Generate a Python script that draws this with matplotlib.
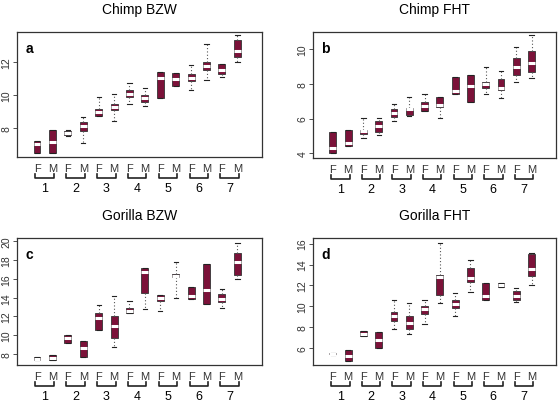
import numpy as np
import matplotlib.pyplot as plt
from matplotlib.transforms import offset_copy

plt.rcParams['font.family'] = ['Liberation Sans', 'DejaVu Sans']

groups = ['1', '2', '3', '4', '5', '6', '7']
sexes = ['F', 'M']

# per box: F1, M1, F2, M2, ... F7, M7
# Chimp BZW
a_q1 = [6.48, 6.48, 7.56, 7.80, 8.72, 9.12, 9.86, 9.60, 9.80, 10.56, 10.84, 11.52, 11.28, 12.32]
a_med = [7.04, 7.18, 7.70, 8.16, 8.96, 9.26, 10.08, 9.82, 11.04, 10.96, 11.00, 11.74, 11.48, 12.66]
a_q3 = [7.20, 7.88, 7.80, 8.36, 9.16, 9.44, 10.30, 10.00, 11.40, 11.32, 11.24, 12.02, 11.84, 13.32]
a_lo = [6.48, 6.48, 7.52, 7.12, 8.72, 8.42, 9.46, 9.32, 9.80, 10.56, 10.30, 10.90, 11.10, 12.00]
a_hi = [7.20, 7.88, 7.86, 8.70, 9.90, 10.08, 10.70, 10.44, 11.40, 11.32, 11.80, 13.10, 11.84, 13.60]

# Chimp FHT
b_q1 = [4.00, 4.40, 5.12, 5.22, 6.12, 6.18, 6.46, 6.67, 7.44, 6.94, 7.74, 7.63, 8.53, 8.66]
b_med = [4.30, 4.59, 5.26, 5.55, 6.33, 6.56, 6.71, 6.79, 7.61, 7.90, 7.97, 7.76, 9.00, 9.18]
b_q3 = [5.22, 5.33, 5.35, 5.87, 6.56, 6.63, 6.94, 7.25, 8.37, 8.50, 8.09, 8.28, 9.48, 9.87]
b_lo = [4.00, 4.40, 4.88, 5.07, 5.87, 6.16, 6.46, 6.06, 7.44, 6.94, 7.42, 7.20, 8.09, 8.32]
b_hi = [5.22, 5.33, 6.06, 6.02, 6.83, 7.23, 7.40, 7.25, 8.37, 8.50, 8.95, 8.72, 10.10, 10.80]

# Gorilla BZW
c_q1 = [7.33, 7.33, 9.18, 7.69, 10.60, 9.75, 12.38, 14.52, 13.67, 16.16, 13.81, 13.38, 13.52, 16.44]
c_med = [7.51, 7.62, 9.68, 8.61, 11.89, 11.03, 12.63, 16.73, 13.95, 16.33, 14.23, 14.84, 13.84, 17.79]
c_q3 = [7.69, 7.94, 10.07, 9.43, 12.42, 12.03, 12.88, 17.15, 14.27, 16.51, 15.16, 17.58, 14.38, 18.79]
c_lo = [7.33, 7.33, 9.18, 7.69, 10.60, 8.79, 12.38, 12.81, 12.56, 14.02, 13.81, 13.38, 12.88, 16.01]
c_hi = [7.69, 7.94, 10.07, 9.43, 13.24, 14.16, 13.60, 17.15, 14.27, 17.76, 15.16, 17.58, 14.95, 19.86]

# Gorilla FHT
d_q1 = [5.42, 4.82, 7.15, 6.00, 8.65, 7.85, 9.23, 11.05, 9.83, 12.33, 10.57, 11.85, 10.63, 12.90]
d_med = [5.46, 5.30, 7.37, 6.83, 9.13, 8.43, 9.77, 12.77, 10.22, 12.74, 10.95, 12.04, 10.95, 13.54]
d_q3 = [5.50, 5.84, 7.63, 7.53, 9.45, 9.04, 10.03, 12.96, 10.63, 13.67, 12.23, 12.23, 11.43, 15.01]
d_lo = [5.38, 4.82, 7.15, 6.00, 7.82, 7.37, 8.33, 10.31, 9.13, 11.37, 10.57, 11.85, 10.41, 12.00]
d_hi = [5.55, 5.84, 7.63, 7.53, 10.63, 10.28, 10.63, 16.10, 11.30, 14.40, 12.23, 12.23, 11.78, 15.10]

panels = [
    ('Chimp BZW', 'a', a_q1, a_med, a_q3, a_lo, a_hi, (6.26, 13.8), [8, 10, 12]),
    ('Chimp FHT', 'b', b_q1, b_med, b_q3, b_lo, b_hi, (3.73, 10.99), [4, 6, 8, 10]),
    ('Gorilla BZW', 'c', c_q1, c_med, c_q3, c_lo, c_hi, (6.83, 20.36), [8, 10, 12, 14, 16, 18, 20]),
    ('Gorilla FHT', 'd', d_q1, d_med, d_q3, d_lo, d_hi, (4.4, 16.54), [6, 8, 10, 12, 14, 16]),
]

W, H = 558, 406
# axes boxes in pixels: left, top, right, bottom
boxes_px = [(17, 33, 262, 158), (313, 33, 556, 159), (17, 239, 262, 366), (313, 239, 556, 366)]

maroon = '#7b1239'
px = 0.72  # points per pixel at dpi 100
fig = plt.figure(figsize=(W / 100, H / 100), dpi=100)

for (title, letter, q1, med, q3, lo, hi, ylim, yt), (l, t, r, b) in zip(panels, boxes_px):
    ax = fig.add_axes([l / W, 1 - b / H, (r - l) / W, (b - t) / H])
    h = b - t
    stats = []
    for i in range(14):
        stats.append(dict(q1=q1[i], med=med[i], q3=q3[i], whislo=lo[i], whishi=hi[i], fliers=[]))
    pos = np.arange(1, 15)
    ax.bxp(stats, positions=pos, widths=0.45, patch_artist=True, showfliers=False,
           boxprops=dict(facecolor=maroon, edgecolor='#333333', linewidth=0.6),
           medianprops=dict(color='white', linewidth=2.2),
           whiskerprops=dict(color='#555555', linestyle=(0, (1, 2)), linewidth=0.8),
           capprops=dict(color='#222222', linewidth=0.8), capwidths=0.28)
    ax.set_xlim(-0.3, 15.6)
    ax.set_ylim(*ylim)
    ax.set_yticks(yt)
    ax.set_yticklabels([str(v) for v in yt], rotation=90, va='center', fontsize=7.5, color='#333333')
    ax.tick_params(axis='y', length=3, width=0.6, pad=1, colors='#333333')
    ax.set_xticks([])
    for s in ax.spines.values():
        s.set_linewidth(0.9)
        s.set_color('#333333')
    ax.set_title(title, fontsize=10, pad=14)
    ax.text(0.035, 0.93, letter, transform=ax.transAxes, fontsize=10, fontweight='bold',
            ha='left', va='top')
    # F / M labels, brackets and group numbers below the axes
    tr = ax.get_xaxis_transform()
    tr_fm = offset_copy(tr, fig=fig, y=-11 * px, units='points')
    tr_num = offset_copy(tr, fig=fig, y=-31 * px, units='points')
    for g in range(7):
        xf, xm = pos[2 * g], pos[2 * g + 1]
        ax.text(xf, 0, sexes[0], transform=tr_fm, ha='center', va='center', fontsize=8, color='#333333')
        ax.text(xm, 0, sexes[1], transform=tr_fm, ha='center', va='center', fontsize=8, color='#333333')
        ax.plot([xf - 0.1, xf - 0.1, xm + 0.1, xm + 0.1], [-17 / h, -20.5 / h, -20.5 / h, -17 / h],
                transform=tr, color='#222222', linewidth=1.2, clip_on=False)
        ax.text((xf + xm) / 2, 0, groups[g], transform=tr_num, ha='center', va='center', fontsize=9)

fig.savefig('out.png', dpi=100)
